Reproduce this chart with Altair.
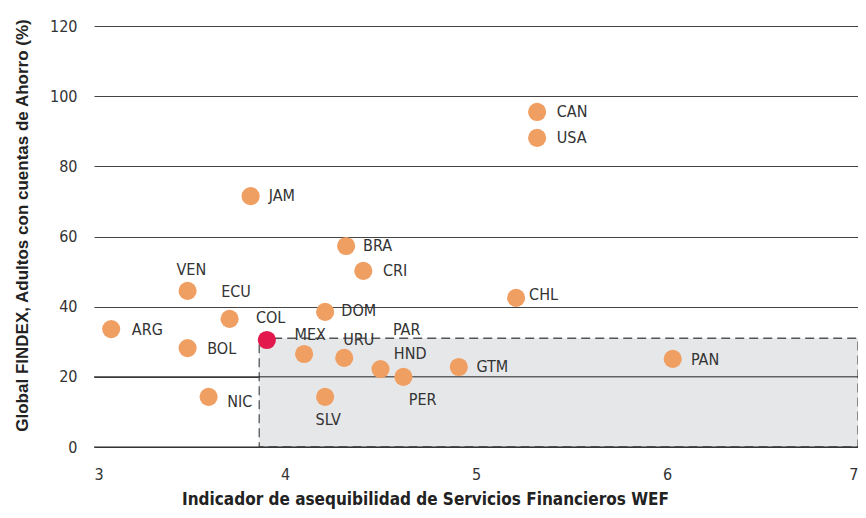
import altair as alt
import pandas as pd

countries = ["CAN", "USA", "JAM", "BRA", "CRI", "VEN", "CHL", "ECU", "DOM", "ARG",
             "COL", "BOL", "MEX", "URU", "HND", "PER", "GTM", "PAN", "NIC", "SLV"]
wef = [5.32, 5.32, 3.82, 4.32, 4.41, 3.49, 5.21, 3.71, 4.21, 3.09,
       3.905, 3.49, 4.10, 4.31, 4.50, 4.62, 4.91, 6.03, 3.60, 4.21]
findex = [95.5, 88.1, 71.5, 57.3, 50.2, 44.5, 42.5, 36.5, 38.5, 33.6,
          30.5, 28.2, 26.5, 25.4, 22.2, 20.0, 22.8, 25.1, 14.3, 14.3]
highlight = ["no"] * 10 + ["yes"] + ["no"] * 9

label_text = ["CAN", "USA", "JAM", "BRA", "CRI", "VEN", "CHL", "ECU", "DOM", "ARG",
              "COL", "BOL", "MEX", "URU", "PAR", "HND", "PER", "GTM", "PAN", "NIC", "SLV"]
label_x = [5.423, 5.423, 3.915, 4.409, 4.513, 3.432, 5.278, 3.666, 4.295, 3.198,
           3.848, 3.593, 4.050, 4.305, 4.565, 4.570, 4.648, 5.002, 6.125, 3.697, 4.160]
label_y = [95.5, 88.1, 71.5, 57.3, 50.2, 50.5, 43.3, 44.2, 38.8, 33.4,
           36.8, 27.9, 31.9, 30.5, 33.4, 26.5, 13.4, 22.8, 24.8, 12.8, 7.7]

box_x = [3.865]
box_x2 = [7.0]
box_y = [0.0]
box_y2 = [31.0]

pts = pd.DataFrame({"pais": countries, "wef": wef, "findex": findex, "col": highlight})
lbl = pd.DataFrame({"t": label_text, "x": label_x, "y": label_y})
box = pd.DataFrame({"x": box_x, "x2": box_x2, "y": box_y, "y2": box_y2})

COND = "DejaVu Sans Condensed, Liberation Sans Narrow, Roboto, sans-serif"

W, H = 764, 421

xscale = alt.Scale(domain=[3, 7], nice=False, zero=False)
yscale = alt.Scale(domain=[0, 120], nice=False)

xaxis = alt.Axis(values=[3, 4, 5, 6, 7], format="d", grid=False, domain=False, ticks=False,
                 labelFontSize=16, labelColor="#333", labelPadding=19,
                 labelFont=COND,
                 title="Indicador de asequibilidad de Servicios Financieros WEF",
                 titleFont=COND, titleFontSize=17, titleFontWeight="bold",
                 titleColor="#222", titlePadding=9, titleX=331, titleAnchor="middle")
yaxis = alt.Axis(values=[0, 20, 40, 60, 80, 100, 120], format="d", grid=True, gridColor="#444",
                 gridWidth=1, domain=False, ticks=False, labelFontSize=16,
                 labelColor="#333", labelPadding=17, labelFont=COND,
                 title="Global FINDEX, Adultos con cuentas de Ahorro (%)",
                 titleFont="Liberation Sans", titleFontSize=17, titleFontWeight="bold",
                 titleColor="#222", titlePadding=18, titleY=199)

rect = alt.Chart(box).mark_rect(fill="#e6e7e9", stroke="#555", strokeWidth=1.3,
                                strokeDash=[9, 5]).encode(
    x=alt.X("x:Q", scale=xscale, axis=xaxis), x2="x2:Q",
    y=alt.Y("y:Q", scale=yscale, axis=yaxis), y2="y2:Q")

grid_front = alt.Chart(pd.DataFrame({"v": [0, 20]})).mark_rule(color="#222", strokeWidth=1).encode(
    y=alt.Y("v:Q", scale=yscale), x=alt.value(0), x2=alt.value(W))

points = alt.Chart(pts).mark_circle(size=330, opacity=1).encode(
    x=alt.X("wef:Q", scale=xscale),
    y=alt.Y("findex:Q", scale=yscale),
    color=alt.Color("col:N", scale=alt.Scale(domain=["no", "yes"], range=["#f09f63", "#e3184c"]),
                    legend=None))

labels = alt.Chart(lbl).mark_text(align="left", baseline="middle", fontSize=16,
                                  font=COND, color="#333").encode(
    x=alt.X("x:Q", scale=xscale), y=alt.Y("y:Q", scale=yscale), text="t:N")

chart = alt.layer(rect, grid_front, points, labels).properties(
    width=W, height=H,
    autosize=alt.AutoSizeParams(type="none"),
    padding={"left": 86, "top": 18, "right": 0, "bottom": 62},
).configure_view(stroke=None)

chart.save("out.html", embed_options={"renderer": "svg", "actions": False})
